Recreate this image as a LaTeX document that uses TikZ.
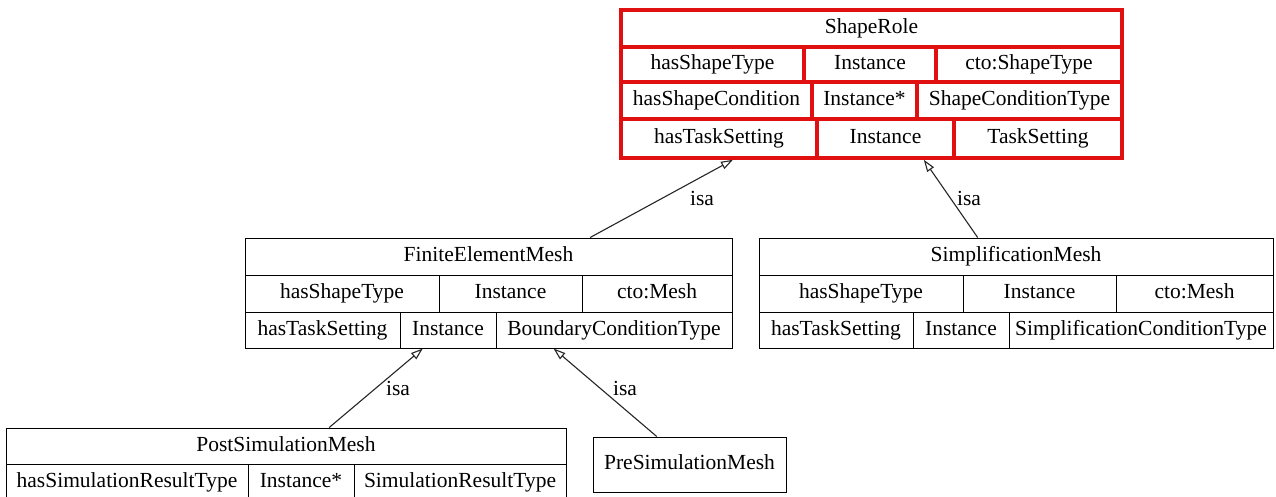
\documentclass[tikz,border=0pt]{standalone}
\usepackage{fontspec}
\setmainfont{Liberation Serif}
\usetikzlibrary{arrows.meta}
\definecolor{srred}{RGB}{224,16,16}
\newcommand{\cellnode}[7][]{\node[cellbox,#1,minimum width={(#4-#2)*1pt},minimum height={(#5-#3)*1pt}] (#6) at ({(#2+#4)/2},{(#3+#5)/2}) {#7};}
\tikzset{
  cellbox/.style={draw=black,line width=1pt,inner sep=0pt,font=\fontsize{21.5}{24}\selectfont,text=black,text height=14.5pt,text depth=4.5pt},
  redbox/.style={draw=srred,line width=3.5pt},
  isaedge/.style={draw=black!85,line width=1.1pt,-{Triangle[open,length=12pt,width=8pt,line width=1.1pt]}},
  isalabel/.style={font=\fontsize{21.5}{24}\selectfont,inner sep=0pt}
}
\begin{document}
\begin{tikzpicture}[x=1pt,y=-1pt]
\useasboundingbox[fill=white] (0,0) rectangle (1276,497);
% ShapeRole
\cellnode[redbox]{621}{10}{1122}{47}{srT}{ShapeRole}
\cellnode[redbox]{621}{47}{804}{82}{srA1}{hasShapeType}
\cellnode[redbox]{804}{47}{936}{82}{srA2}{Instance}
\cellnode[redbox]{936}{47}{1122}{82}{srA3}{cto:ShapeType}
\cellnode[redbox]{621}{82}{812}{119}{srB1}{hasShapeCondition}
\cellnode[redbox]{812}{82}{917}{119}{srB2}{Instance*}
\cellnode[redbox]{917}{82}{1122}{119}{srB3}{ShapeConditionType}
\cellnode[redbox]{621}{119}{817}{158}{srC1}{hasTaskSetting}
\cellnode[redbox]{817}{119}{954}{158}{srC2}{Instance}
\cellnode[redbox]{954}{119}{1122}{158}{srC3}{TaskSetting}
\cellnode[redbox]{621}{10}{1122}{158}{sr}{}
% FiniteElementMesh
\cellnode{245}{238}{732}{275}{femT}{FiniteElementMesh}
\cellnode{245}{275}{439}{312}{femA1}{hasShapeType}
\cellnode{439}{275}{582}{312}{femA2}{Instance}
\cellnode{582}{275}{732}{312}{femA3}{cto:Mesh}
\cellnode{245}{312}{400}{348}{femB1}{hasTaskSetting}
\cellnode{400}{312}{496}{348}{femB2}{Instance}
\cellnode{496}{312}{732}{348}{femB3}{BoundaryConditionType}
\cellnode{245}{238}{732}{348}{fem}{}
% SimplificationMesh
\cellnode{759}{238}{1273}{275}{smT}{SimplificationMesh}
\cellnode{759}{275}{963}{312}{smA1}{hasShapeType}
\cellnode{963}{275}{1116}{312}{smA2}{Instance}
\cellnode{1116}{275}{1273}{312}{smA3}{cto:Mesh}
\cellnode{759}{312}{913}{348}{smB1}{hasTaskSetting}
\cellnode{913}{312}{1009}{348}{smB2}{Instance}
\cellnode{1009}{312}{1273}{348}{smB3}{SimplificationConditionType}
\cellnode{759}{238}{1273}{348}{sm}{}
% PostSimulationMesh
\cellnode{6}{428}{566}{464}{psmT}{PostSimulationMesh}
\cellnode{6}{464}{248}{500}{psmA1}{hasSimulationResultType}
\cellnode{248}{464}{354}{500}{psmA2}{Instance*}
\cellnode{354}{464}{566}{500}{psmA3}{SimulationResultType}
\cellnode{6}{428}{566}{500}{psm}{}
% PreSimulationMesh
\cellnode{593}{437}{786}{492}{pre}{PreSimulationMesh}
% edges
\draw[isaedge] (fem) -- (sr);
\draw[isaedge] (sm) -- (sr);
\draw[isaedge] (psm) -- (fem);
\draw[isaedge] (pre) -- (fem);
\node[isalabel] (l1) at (702,198) {isa};
\node[isalabel] (l2) at (969,198) {isa};
\node[isalabel] (l3) at (398,388) {isa};
\node[isalabel] (l4) at (625,388) {isa};
\end{tikzpicture}
\end{document}
